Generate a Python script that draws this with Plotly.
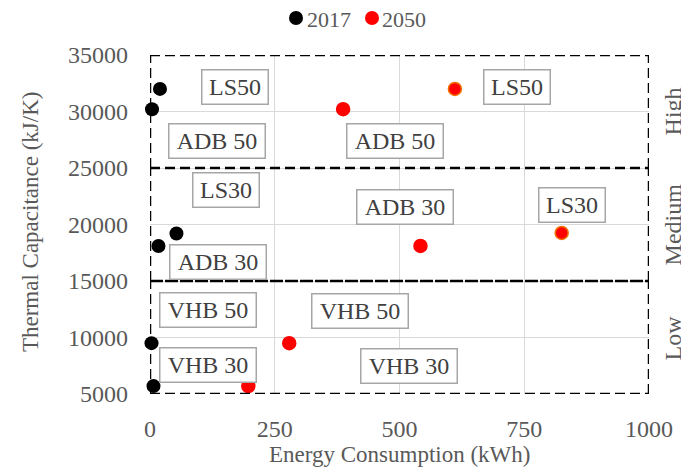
import plotly.graph_objects as go

# ---- data ----
x_2017 = [20, 4, 53, 17, 3, 7]
y_2017 = [32000, 30200, 19200, 18100, 9500, 5700]
x_2050 = [387, 611, 825, 542, 279, 197]
y_2050 = [30200, 32000, 19250, 18100, 9500, 5700]
edge_2050 = ["red", "#f07000", "#f07000", "red", "red", "red"]

label_text = ["LS50", "ADB 50", "LS30", "ADB 30", "VHB 50", "VHB 30",
              "LS50", "ADB 50", "ADB 30", "LS30", "VHB 50", "VHB 30"]
label_x = [170, 134, 152, 136, 116, 116, 735, 491, 511, 846, 421, 519]
label_y = [32170, 27390, 23050, 16680, 12430, 7560, 32170, 27390, 21550, 21720, 12350, 7480]

zone_names = ["High", "Medium", "Low"]
zone_bounds = [(25000, 35000), (15000, 25000), (5000, 15000)]

x_ticks = [0, 250, 500, 750, 1000]
y_ticks = [5000, 10000, 15000, 20000, 25000, 30000, 35000]

series_names = ["2017", "2050"]
series_colors = ["black", "red"]

FONT = "Liberation Serif"
GREY = "#595959"

fig = go.Figure()
fig.add_trace(go.Scatter(x=x_2017, y=y_2017, mode="markers", name=series_names[0],
                         marker=dict(color=series_colors[0], size=14), cliponaxis=False))
fig.add_trace(go.Scatter(x=x_2050, y=y_2050, mode="markers", name=series_names[1],
                         marker=dict(color=series_colors[1], size=13,
                                     line=dict(color=edge_2050, width=1.5)),
                         cliponaxis=False))

shapes = []
dash = "10px,5px"
for lo, hi in zone_bounds:
    for xv in (0, 1000):
        shapes.append(dict(type="line", xref="x", yref="y", x0=xv, x1=xv, y0=lo, y1=hi,
                           line=dict(color="black", width=2.5, dash=dash)))
for yv in (35000, 25000, 5000):
    shapes.append(dict(type="line", xref="x", yref="y", x0=0, x1=1000, y0=yv, y1=yv,
                       line=dict(color="black", width=2.5, dash=dash)))
shapes.append(dict(type="line", xref="x", yref="y", x0=0, x1=1000, y0=15000, y1=15000,
                   line=dict(color="black", width=2.5, dash="13px,2px")))

annotations = []
for t, xv, yv in zip(label_text, label_x, label_y):
    w = 59 if t.startswith("LS") else 89
    annotations.append(dict(x=xv, y=yv, xref="x", yref="y", text=t, showarrow=False,
                            font=dict(family=FONT, size=24, color="#404040"),
                            bordercolor="#a6a6a6", borderwidth=1.5, borderpad=3,
                            bgcolor="white", width=w, height=27))
for name, (lo, hi) in zip(zone_names, zone_bounds):
    annotations.append(dict(x=1.048, y=(lo + hi) / 2, xref="paper", yref="y", text=name,
                            showarrow=False, textangle=-90, xanchor="center", yanchor="middle",
                            font=dict(family=FONT, size=24, color=GREY)))
# axis titles
annotations.append(dict(x=-0.2405, y=0.51, xref="paper", yref="paper",
                        text="Thermal Capacitance (kJ/K)", showarrow=False, textangle=-90,
                        xanchor="center", yanchor="middle",
                        font=dict(family=FONT, size=23, color=GREY)))
annotations.append(dict(x=0.5, y=-0.178, xref="paper", yref="paper",
                        text="Energy Consumption (kWh)", showarrow=False,
                        xanchor="center", yanchor="middle",
                        font=dict(family=FONT, size=23, color=GREY)))

# manual legend (markers + labels) at the top
legend_dot_x = [0.2926, 0.4449]
legend_txt_x = [0.3106, 0.461]
legend_y = 1.104
for nm, col, dx, tx in zip(series_names, series_colors, legend_dot_x, legend_txt_x):
    shapes.append(dict(type="circle", xref="paper", yref="paper", xsizemode="pixel",
                       ysizemode="pixel", xanchor=dx, yanchor=legend_y + 0.005,
                       x0=-7, x1=7, y0=-7, y1=7, fillcolor=col, line=dict(color=col, width=0)))
    annotations.append(dict(x=tx, y=legend_y, xref="paper", yref="paper", text=nm,
                            showarrow=False, xanchor="left", yanchor="middle",
                            font=dict(family=FONT, size=22, color=GREY)))

fig.update_layout(
    width=681, height=461,
    margin=dict(l=142, r=40, t=47, b=75, autoexpand=False),
    paper_bgcolor="white", plot_bgcolor="white",
    font=dict(family=FONT, size=24, color=GREY),
    showlegend=False,
    shapes=shapes, annotations=annotations,
)
fig.update_xaxes(range=[0, 1000], tickvals=x_ticks, ticktext=[str(v) for v in x_ticks],
                 showgrid=True, gridcolor="#d9d9d9", gridwidth=1, zeroline=False,
                 showline=False, ticks="", ticklabelstandoff=18, automargin=False,
                 tickfont=dict(family=FONT, size=24, color=GREY))
fig.update_yaxes(range=[5000, 35000], tickvals=y_ticks, ticktext=[str(v) for v in y_ticks],
                 showgrid=True, gridcolor="#d9d9d9", gridwidth=1, zeroline=False,
                 showline=False, ticks="", ticklabelstandoff=21, automargin=False,
                 tickfont=dict(family=FONT, size=24, color=GREY))

fig.write_html("out.html")
